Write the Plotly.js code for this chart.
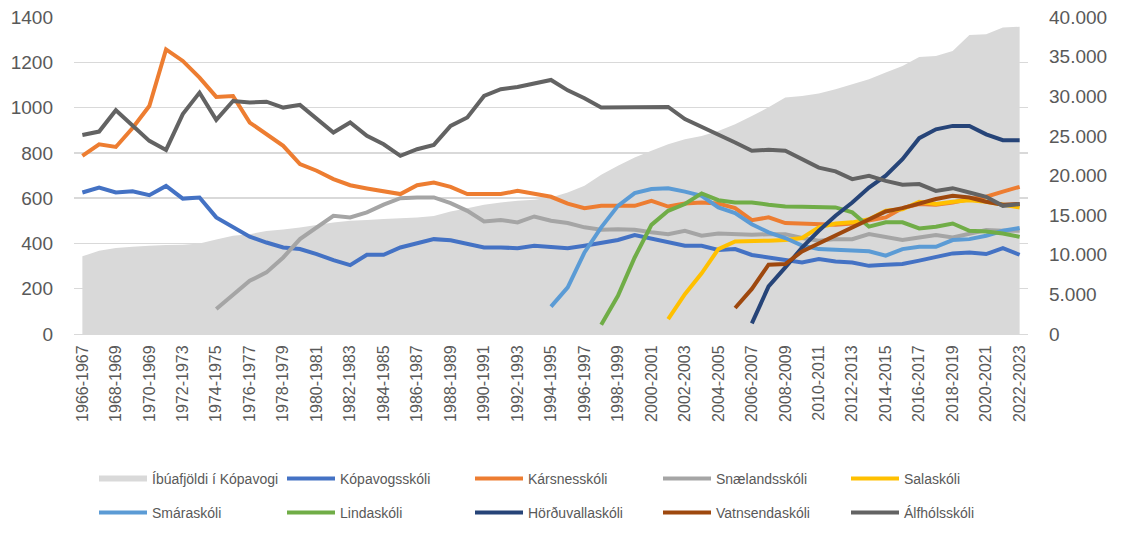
<!DOCTYPE html>
<html>
<head>
<meta charset="utf-8">
<script src="https://cdn.plot.ly/plotly-3.0.1.min.js"></script>
<style>html,body{margin:0;padding:0;background:#fff;}#chart{width:1125px;height:535px;}</style>
</head>
<body>
<div id="chart"></div>
<script>
const categories = ["1966-1967","1967-1968","1968-1969","1969-1970","1970-1969","1971-1972","1972-1973","1973-1974","1974-1975","1975-1976","1976-1977","1977-1978","1978-1979","1979-1980","1980-1981","1981-1982","1982-1983","1983-1984","1984-1985","1985-1986","1986-1987","1987-1988","1988-1989","1989-1990","1990-1991","1991-1992","1992-1993","1993-1994","1994-1995","1995-1996","1996-1997","1997-1998","1998-1999","1999-2000","2000-2001","2001-2002","2002-2003","2003-2004","2004-2005","2005-2006","2006-2007","2007-2008","2008-2009","2009-2010","2010-2011","2011-2012","2012-2013","2013-2014","2014-2015","2015-2016","2016-2017","2017-2018","2018-2019","2019-2020","2020-2021","2021-2022","2022-2023"];

const tickLabels = ["1966-1967","1968-1969","1970-1969","1972-1973","1974-1975","1976-1977","1978-1979","1980-1981","1982-1983","1984-1985","1986-1987","1988-1989","1990-1991","1992-1993","1994-1995","1996-1997","1998-1999","2000-2001","2002-2003","2004-2005","2006-2007","2008-2009","2010-2011","2012-2013","2014-2015","2016-2017","2018-2019","2020-2021","2022-2023"];

const ibuafjoldi = [9800,10500,10840,11000,11140,11220,11260,11430,11930,12400,12600,13000,13200,13450,13740,14080,14300,14370,14500,14620,14700,14900,15460,15880,16300,16600,16800,16930,17230,17860,18700,20090,21220,22270,23110,23950,24580,25000,25630,26470,27520,28600,29830,30040,30340,30890,31520,32150,32990,33830,34960,35090,35720,37730,37820,38660,38780];

const kopavogsskoli = [625,647,625,630,613,654,598,603,515,474,430,404,382,375,353,326,304,350,350,382,400,419,414,400,382,382,379,390,385,379,390,404,415,437,422,404,390,390,371,375,349,338,328,316,331,320,316,301,306,309,324,341,356,360,353,379,350];

const karsnesskoli = [787,838,826,910,1007,1257,1206,1132,1047,1051,934,882,831,750,721,684,657,643,629,618,657,669,650,618,618,618,632,618,606,576,556,566,566,566,588,563,576,581,576,556,503,515,490,488,485,482,488,500,515,556,574,571,581,596,606,629,650];

const snaelandsskoli = [null,null,null,null,null,null,null,null,110,174,235,272,338,419,471,522,515,537,571,600,603,603,578,544,497,503,493,519,500,490,471,460,463,460,449,441,456,434,444,441,438,441,441,424,412,419,419,441,426,415,426,437,426,441,459,456,456];

const salaskoli = [null,null,null,null,null,null,null,null,null,null,null,null,null,null,null,null,null,null,null,null,null,null,null,null,null,null,null,null,null,null,null,null,null,null,null,66,176,268,375,409,409,412,415,424,471,488,493,507,544,551,584,574,584,591,584,571,559];

const smaraskoli = [null,null,null,null,null,null,null,null,null,null,null,null,null,null,null,null,null,null,null,null,null,null,null,null,null,null,null,null,121,206,360,471,566,622,640,644,629,610,559,534,485,449,424,390,375,371,368,365,346,375,385,385,415,419,434,456,468];

const lindaskoli = [null,null,null,null,null,null,null,null,null,null,null,null,null,null,null,null,null,null,null,null,null,null,null,null,null,null,null,null,null,null,null,41,169,338,482,544,574,621,591,581,581,571,563,562,559,559,537,474,493,493,466,474,488,456,453,444,429];

const hordvallaskoli = [null,null,null,null,null,null,null,null,null,null,null,null,null,null,null,null,null,null,null,null,null,null,null,null,null,null,null,null,null,null,null,null,null,null,null,null,null,null,null,null,47,210,294,382,456,522,581,647,699,772,865,904,919,919,882,856,856];

const vatnsendaskoli = [null,null,null,null,null,null,null,null,null,null,null,null,null,null,null,null,null,null,null,null,null,null,null,null,null,null,null,null,null,null,null,null,null,null,null,null,null,null,null,115,199,306,309,365,400,434,471,507,541,556,576,596,610,603,584,571,574];

const alfholsskoli = [879,894,988,919,853,813,971,1066,946,1029,1022,1026,1000,1012,953,890,934,875,838,787,816,835,919,956,1051,1081,1091,1106,1122,1076,1041,1000,1000,1000,1000,1003,949,915,882,846,809,814,809,772,735,718,684,699,676,659,662,632,644,625,606,566,574];

const FONT = '"Liberation Sans", Arial, sans-serif';
const TXT = '#595959';

function lineTrace(name, y, color, legend) {
  return {type:'scatter', mode:'lines', name:name, x:categories, y:y, yaxis:'y2',
    line:{color:color, width:4}, connectgaps:false, legend:legend, hoverinfo:'skip'};
}

const traces = [
  {type:'scatter', mode:'none', name:'Íbúafjöldi í Kópavogi', x:categories, y:ibuafjoldi, yaxis:'y',
   fill:'tozeroy', fillcolor:'#D9D9D9', legend:'legend', hoverinfo:'skip'},
  lineTrace('Kópavogsskóli', kopavogsskoli, '#4472C4', 'legend'),
  lineTrace('Kársnesskóli', karsnesskoli, '#ED7D31', 'legend'),
  lineTrace('Snælandsskóli', snaelandsskoli, '#A5A5A5', 'legend'),
  lineTrace('Salaskóli', salaskoli, '#FFC000', 'legend'),
  lineTrace('Smáraskóli', smaraskoli, '#5B9BD5', 'legend2'),
  lineTrace('Lindaskóli', lindaskoli, '#70AD47', 'legend2'),
  lineTrace('Hörðuvallaskóli', hordvallaskoli, '#264478', 'legend2'),
  lineTrace('Vatnsendaskóli', vatnsendaskoli, '#9E480E', 'legend2'),
  lineTrace('Álfhólsskóli', alfholsskoli, '#636363', 'legend2')
];

const legendBase = {orientation:'h', xref:'container', yref:'container', xanchor:'left', yanchor:'middle',
  font:{family:FONT, size:14, color:TXT}, itemwidth:48, entrywidth:125, entrywidthmode:'pixels',
  bgcolor:'rgba(0,0,0,0)', borderwidth:0, itemclick:false, itemdoubleclick:false};

const layout = {
  width:1125, height:535,
  margin:{l:74, r:97, t:17, b:201, pad:0},
  paper_bgcolor:'#ffffff', plot_bgcolor:'#ffffff',
  separators:',.',
  font:{family:FONT, color:TXT},
  showlegend:true,
  xaxis:{type:'category', range:[-0.5, categories.length-0.5], tickmode:'array', tickvals:tickLabels, ticktext:tickLabels,
    tickangle:-90, tickfont:{family:FONT, size:16, color:TXT}, ticks:'', showgrid:false, zeroline:false,
    showline:true, linecolor:'#D9D9D9', linewidth:1, ticklabelstandoff:4, fixedrange:true},
  yaxis:{side:'right', range:[0,40000], tickmode:'linear', tick0:0, dtick:5000, tickformat:',d',
    tickfont:{family:FONT, size:19, color:TXT}, showgrid:false, zeroline:false, ticks:'', ticklabelstandoff:20, fixedrange:true},
  yaxis2:{overlaying:'y', side:'left', range:[0,1400], tickmode:'linear', tick0:0, dtick:200,
    tickfont:{family:FONT, size:19, color:TXT}, showgrid:true, gridcolor:'#D9D9D9', gridwidth:1.5, zeroline:false, ticks:'', ticklabelstandoff:20, fixedrange:true},
  legend:Object.assign({}, legendBase, {x:94/1125, y:1-479/535}),
  legend2:Object.assign({}, legendBase, {x:94/1125, y:1-513/535})
};

Plotly.newPlot('chart', traces, layout, {displayModeBar:false, staticPlot:true});
</script>
</body>
</html>
